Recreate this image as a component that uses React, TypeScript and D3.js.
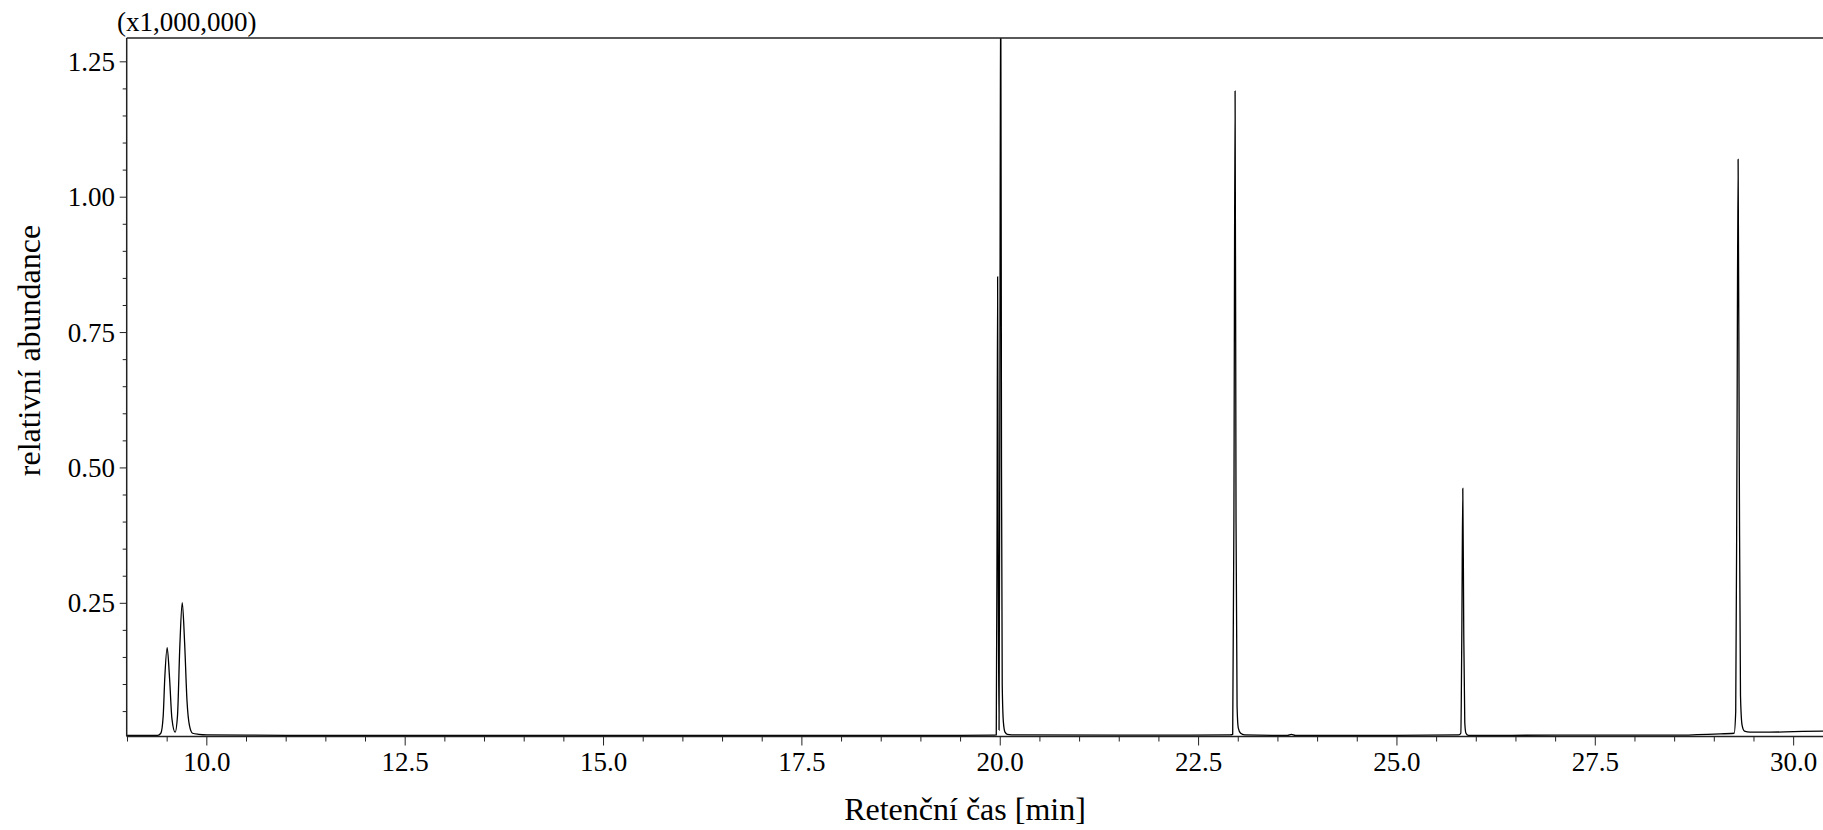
import React from 'react';
import * as d3 from 'd3';

// chromatogram trace (time in min, abundance in x1,000,000)
const retentionTime = [
  8.99, 9.30, 9.38, 9.42, 9.45, 9.47, 9.50, 9.53, 9.56, 9.60, 9.63, 9.66, 9.69, 9.72, 9.75, 9.78, 9.82, 9.90,
  10.00, 10.50, 11.00, 15.00, 19.50, 19.90,
  19.950, 19.960, 19.967, 19.975, 19.985, 19.995, 20.006, 20.016, 20.025, 20.040, 20.060, 20.090, 20.20,
  21.50, 22.90, 22.930, 22.945, 22.960, 22.972, 22.985, 23.000, 23.030, 23.080,
  23.62, 23.67, 23.72, 25.00, 25.78, 25.805, 25.818, 25.830, 25.842, 25.855, 25.870, 25.90,
  27.00, 28.50, 29.00, 29.25, 29.27, 29.285, 29.300, 29.315, 29.330, 29.350, 29.380, 29.45, 29.70, 30.00, 30.37,
];
const abundance = [
  0.006, 0.006, 0.006, 0.010, 0.042, 0.112, 0.168, 0.112, 0.037, 0.012, 0.042, 0.172, 0.251, 0.177, 0.070, 0.025, 0.010, 0.008,
  0.007, 0.0065, 0.006, 0.006, 0.006, 0.0065,
  0.007, 0.400, 0.853, 0.300, 0.016, 0.600, 1.450, 0.500, 0.100, 0.030, 0.012, 0.008, 0.007,
  0.0065, 0.007, 0.008, 0.400, 1.196, 0.400, 0.060, 0.020, 0.010, 0.007,
  0.006, 0.008, 0.006, 0.006, 0.007, 0.010, 0.200, 0.462, 0.200, 0.030, 0.010, 0.006,
  0.0065, 0.0065, 0.0085, 0.010, 0.050, 0.500, 1.070, 0.500, 0.080, 0.025, 0.014, 0.012, 0.012, 0.013, 0.014,
];

const xLabelTicks = [10.0, 12.5, 15.0, 17.5, 20.0, 22.5, 25.0, 27.5, 30.0];
const yLabelTicks = [0.25, 0.5, 0.75, 1.0, 1.25];

const W = 1823;
const H = 830;
const left = 126.7;
const right = 1823;
const top = 38;
const bottom = 736.5;
const FONT = '"Liberation Serif", "Times New Roman", serif';

export default function App() {
  const x = d3.scaleLinear().domain([8.99, 30.37]).range([left, right]);
  const y = d3.scaleLinear().domain([0.004, 1.294]).range([bottom, top]);

  const points = retentionTime.map((t, i) => [t, abundance[i]] as [number, number]);
  const line = d3.line<[number, number]>()
    .x(d => x(d[0]))
    .y(d => y(d[1]))
    .curve(d3.curveMonotoneX);

  const xMinor = d3.range(9.0, 30.01, 0.5);
  const yMinor = d3.range(0.05, 1.2501, 0.05);

  return (
    <svg width={W} height={H} style={{ position: 'absolute', left: 0, top: 0, background: '#fff' }}>
      <defs>
        <clipPath id="plot">
          <rect x={left} y={top} width={right - left} height={bottom - top + 2} />
        </clipPath>
      </defs>

      {/* trace */}
      <path d={line(points) ?? ''} fill="none" stroke="#000" strokeWidth={1.3} clipPath="url(#plot)" />

      {/* frame */}
      <line x1={left} x2={right} y1={top} y2={top} stroke="#222" strokeWidth={1.5} />
      <line x1={left} x2={left} y1={top} y2={bottom} stroke="#222" strokeWidth={1.5} />
      <line x1={left} x2={right} y1={bottom} y2={bottom} stroke="#222" strokeWidth={1.5} />

      {/* x ticks */}
      {xMinor.map(t => {
        const major = xLabelTicks.some(v => Math.abs(v - t) < 1e-6);
        return (
          <line key={'xt' + t} x1={x(t)} x2={x(t)} y1={bottom} y2={bottom + (major ? 9 : 5)}
            stroke="#222" strokeWidth={1} />
        );
      })}
      {xLabelTicks.map(t => (
        <text key={'xl' + t} x={x(t)} y={771} textAnchor="middle" fontFamily={FONT} fontSize={27} fill="#000">
          {t.toFixed(1)}
        </text>
      ))}

      {/* y ticks */}
      {yMinor.map(v => {
        const major = yLabelTicks.some(u => Math.abs(u - v) < 1e-6);
        return (
          <line key={'yt' + v} x1={left - (major ? 7 : 4)} x2={left} y1={y(v)} y2={y(v)}
            stroke="#222" strokeWidth={1} />
        );
      })}
      {yLabelTicks.map(v => (
        <text key={'yl' + v} x={115} y={y(v)} dy="0.34em" textAnchor="end" fontFamily={FONT} fontSize={27} fill="#000">
          {v.toFixed(2)}
        </text>
      ))}

      {/* titles */}
      <text x={117} y={31} fontFamily={FONT} fontSize={27} fill="#000">(x1,000,000)</text>
      <text x={965} y={820} textAnchor="middle" fontFamily={FONT} fontSize={32} fill="#000">Retenční čas [min]</text>
      <text transform="translate(40,350.5) rotate(-90)" textAnchor="middle" fontFamily={FONT} fontSize={32} fill="#000">
        relativní abundance
      </text>
    </svg>
  );
}
